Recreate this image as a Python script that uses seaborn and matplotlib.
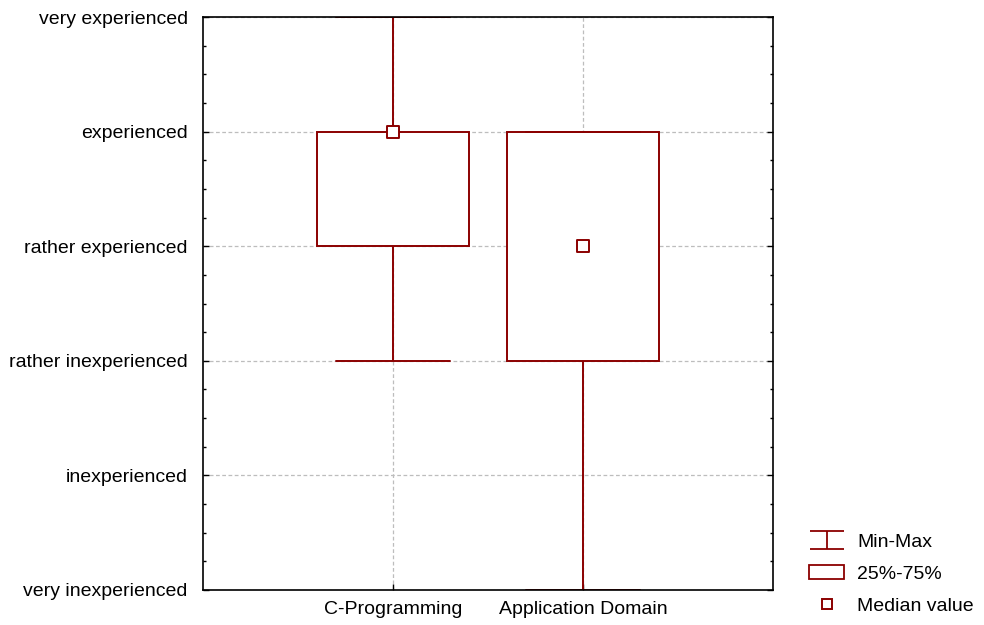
import numpy as np
import pandas as pd
import seaborn as sns
import matplotlib.pyplot as plt
from matplotlib.lines import Line2D
from matplotlib.patches import Patch
from matplotlib.path import Path
from matplotlib.ticker import MultipleLocator

# Data (1 = very inexperienced ... 6 = very experienced)
categories = ["C-Programming", "Application Domain"]
level_labels = ["very inexperienced", "inexperienced", "rather inexperienced",
                "rather experienced", "experienced", "very experienced"]
mins = [3, 1]
q1s = [4, 3]
medians = [5, 4]
q3s = [5, 5]
maxs = [6, 5]

# long table with the five-number summary of each group,
# a min-max boxplot (whis=(0, 100)) gives back exactly these values
rows = []
for cat, a, b, c, d, e in zip(categories, mins, q1s, medians, q3s, maxs):
    for v in (a, b, c, d, e):
        rows.append({"skill": cat, "level": v})
df = pd.DataFrame(rows)

red = "#8b0000"

sns.set_style("white")
plt.rcParams["font.family"] = ["Liberation Sans", "DejaVu Sans"]
plt.rcParams["text.color"] = "black"
plt.rcParams["xtick.color"] = "black"
plt.rcParams["ytick.color"] = "black"

fig = plt.figure(figsize=(9.84, 6.25), dpi=100)
ax = fig.add_axes([203 / 984, 35 / 625, 570 / 984, 573 / 625])

sns.boxplot(data=df, x="skill", y="level", order=categories, whis=(0, 100),
            width=0.8, color="white", linecolor=red, linewidth=1.4,
            showfliers=False, medianprops={"visible": False},
            capwidths=0.6, ax=ax)

# median squares
sns.stripplot(x=categories, y=medians, order=categories, jitter=False,
              marker="s", size=8.5, color="white", edgecolor=red,
              linewidth=1.4, ax=ax, zorder=5)

ax.set_xlim(-1, 2)
ax.set_ylim(1, 6)
ax.set_yticks(range(1, 7))
ax.set_yticklabels(level_labels)
ax.yaxis.set_minor_locator(MultipleLocator(0.25))
ax.set_xlabel("")
ax.set_ylabel("")
ax.set_axisbelow(True)
ax.grid(True, which="major", axis="both", color="#bdbdbd",
        linestyle=(0, (3, 2)), linewidth=0.9)

ax.tick_params(which="both", direction="in", right=True, top=False,
               left=True, bottom=True, labelcolor="black", labelsize=14)
ax.tick_params(which="major", length=4, width=1)
ax.tick_params(which="minor", length=2.5, width=1)
ax.tick_params(axis="y", which="major", pad=11)
ax.tick_params(axis="x", which="major", pad=8)
for sp in ax.spines.values():
    sp.set_visible(True)
    sp.set_color("black")
    sp.set_linewidth(1.2)
    sp.set_zorder(10)

# legend
ibar = Path([(-1, 0.5), (1, 0.5), (0, 0.5), (0, -0.5), (-1, -0.5), (1, -0.5)],
            [Path.MOVETO, Path.LINETO, Path.MOVETO, Path.LINETO,
             Path.MOVETO, Path.LINETO])
handles = [
    Line2D([], [], color=red, marker=ibar, markersize=25, linestyle="none",
           markeredgewidth=1.3, markerfacecolor="none"),
    Patch(facecolor="white", edgecolor=red, linewidth=1.3),
    Line2D([], [], marker="s", markersize=7, linestyle="none",
           markerfacecolor="white", markeredgecolor=red, markeredgewidth=1.4),
]
labels = ["Min-Max", "25%-75%", "Median value"]
fig.legend(handles, labels, loc="upper left", bbox_to_anchor=(809 / 984, 0.148),
           frameon=False, fontsize=14, borderpad=0, borderaxespad=0,
           handlelength=1.8, handleheight=0.77, handletextpad=0.67,
           labelspacing=0.72)

fig.savefig("out.png", dpi=100)
